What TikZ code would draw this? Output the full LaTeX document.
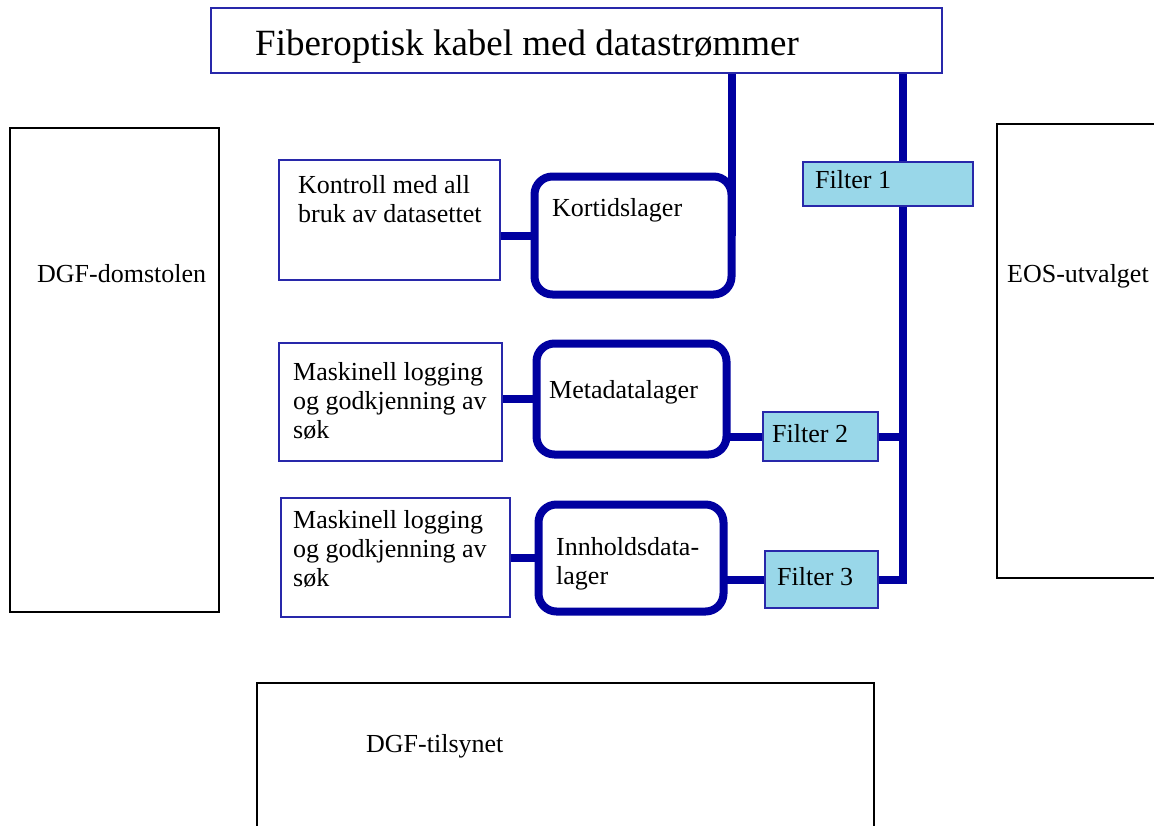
\documentclass[tikz,border=0pt]{standalone}
\usepackage{fontspec}
\setmainfont{Liberation Serif}
\usetikzlibrary{positioning,backgrounds}
\definecolor{pipeblue}{RGB}{0,0,160}
\definecolor{edgeblue}{RGB}{40,40,170}
\definecolor{filterblue}{RGB}{153,215,233}
\tikzstyle{Box} = [draw=edgeblue, line width=1.5pt, rectangle, anchor=north west, outer sep=0pt]
\tikzstyle{Store} = [draw=pipeblue, line width=8pt, rectangle, rounded corners=18pt, anchor=north west, outer sep=0pt]
\tikzstyle{Filter} = [Box, fill=filterblue]
\tikzstyle{Org} = [draw=black, line width=1.5pt, rectangle, anchor=north west, outer sep=0pt]
\tikzstyle{Text} = [inner sep=0pt, align=left, font=\fontsize{26}{29}\selectfont]
\tikzstyle{Pipe} = [draw=pipeblue, line width=8pt, line join=miter]

\begin{document}
\begin{tikzpicture}[x=1pt, y=-1pt]
    \useasboundingbox (0,0) rectangle (1154,825);
    % boxes
    \node[Box]    (fiber)    at (211,8)       [minimum width=731pt, minimum height=65pt] {};
    \node[Box]    (kontroll) at (279,160)     [minimum width=221pt, minimum height=120pt] {};
    \node[Store]  (kortid)   at (534.5,176.5) [minimum width=197pt, minimum height=118pt] {};
    \node[Box]    (logg1)    at (279,343)     [minimum width=223pt, minimum height=118pt] {};
    \node[Store]  (meta)     at (536.5,343.5) [minimum width=190pt, minimum height=111pt] {};
    \node[Box]    (logg2)    at (281,498)     [minimum width=229pt, minimum height=119pt] {};
    \node[Store]  (innhold)  at (538.5,504.5) [minimum width=185pt, minimum height=107pt] {};
    \node[Filter] (filter1)  at (803,162)     [minimum width=170pt, minimum height=44pt] {};
    \node[Filter] (filter2)  at (763,412)     [minimum width=115pt, minimum height=49pt] {};
    \node[Filter] (filter3)  at (765,551)     [minimum width=113pt, minimum height=57pt] {};
    \node[Org]    (domstol)  at (10,128)      [minimum width=209pt, minimum height=484pt] {};
    \node[Org]    (eos)      at (997,124)     [minimum width=170pt, minimum height=454pt] {};
    \node[Org]    (tilsyn)   at (257,683)     [minimum width=617pt, minimum height=160pt] {};
    \coordinate (tap) at (903,581);
    % texts
    \node[Text, font=\fontsize{37}{44}\selectfont] (t_fiber) [below right=22pt and 44pt of fiber.north west] {Fiberoptisk kabel med datastrømmer};
    \node[Text] (t_kontroll) [below right=15pt and 19pt of kontroll.north west] {Kontroll med all\\bruk av datasettet};
    \node[Text] (t_kortid)   [below right=21.5pt and 17.5pt of kortid.north west] {Kortidslager};
    \node[Text] (t_logg1)    [below right=19pt and 14pt of logg1.north west] {Maskinell logging\\og godkjenning av\\søk};
    \node[Text] (t_meta)     [below right=36.5pt and 12.5pt of meta.north west] {Metadatalager};
    \node[Text] (t_logg2)    [below right=12pt and 12pt of logg2.north west] {Maskinell logging\\og godkjenning av\\søk};
    \node[Text] (t_innhold)  [below right=32.5pt and 17.5pt of innhold.north west] {Innholdsdata-\\lager};
    \node[Text] (t_filter1)  [below right=8pt and 12pt of filter1.north west] {Filter 1};
    \node[Text] (t_filter2)  [below right=12pt and 9pt of filter2.north west] {Filter 2};
    \node[Text] (t_filter3)  [below right=16pt and 12pt of filter3.north west] {Filter 3};
    \node[Text] (t_domstol)  [below right=136pt and 27pt of domstol.north west] {DGF-domstolen};
    \node[Text] (t_eos)      [below right=140pt and 10pt of eos.north west] {EOS-utvalget};
    \node[Text] (t_tilsyn)   [below right=51pt and 109pt of tilsyn.north west] {DGF-tilsynet};
    % connectors
    \begin{pgfonlayer}{background}
    \draw[Pipe] (fiber.south -| kortid.east) -- (kortid.east);
    \draw[Pipe] (fiber.south -| tap) -- (tap |- filter3.east) -- (filter3.east);
    \draw[Pipe] (filter2.east) -- (filter2.east -| tap);
    \draw[Pipe] (kontroll.east |- kortid.west) -- (kortid.west);
    \draw[Pipe] (logg1.east |- meta.west) -- (meta.west);
    \draw[Pipe] (logg2.east |- innhold.west) -- (innhold.west);
    \draw[Pipe] (meta.east |- filter2.west) -- (filter2.west);
    \draw[Pipe] (innhold.east |- filter3.west) -- (filter3.west);
    \end{pgfonlayer}
\end{tikzpicture}
\end{document}
